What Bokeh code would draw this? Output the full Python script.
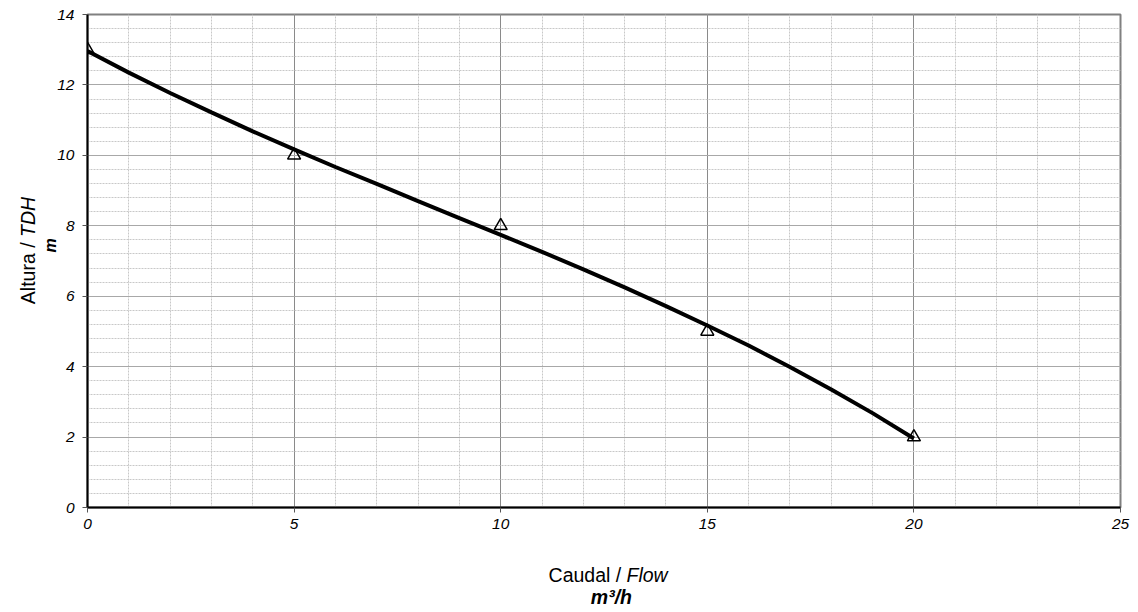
from bokeh.plotting import figure
from bokeh.models import Range1d, SingleIntervalTicker, Label, ColumnDataSource
from bokeh.embed import file_html
from bokeh.resources import INLINE
import math

# Measured pump points (Caudal / Flow m3/h, Altura / TDH m)
flow_pts = [0, 5, 10, 15, 20]
head_pts = [13, 10, 8, 5, 2]

# Trend curve
curve_flow = [0, 1, 2, 3, 4, 5, 6, 7, 8, 9, 10, 11, 12, 13, 14, 15, 16, 17, 18, 19, 20]
curve_head = [12.96, 12.35, 11.77, 11.22, 10.68, 10.17, 9.67, 9.19, 8.70, 8.22, 7.74,
              7.26, 6.76, 6.25, 5.72, 5.17, 4.60, 3.99, 3.35, 2.68, 1.96]

FONT = "Liberation Sans"

p = figure(width=1130, height=610, output_backend="svg", toolbar_location=None,
           x_range=Range1d(0, 25), y_range=Range1d(0, 14),
           min_border_left=87, min_border_right=10, min_border_top=14, min_border_bottom=103)
p.background_fill_color = "white"
p.border_fill_color = "white"
p.outline_line_color = "#808080"
p.outline_line_width = 2

p.xaxis.ticker = SingleIntervalTicker(interval=5, num_minor_ticks=5)
p.yaxis.ticker = SingleIntervalTicker(interval=2, num_minor_ticks=5)

for ax in (p.xaxis, p.yaxis):
    ax.axis_line_color = "black"
    ax.axis_line_width = 2
    ax.major_tick_line_color = "#555555"
    ax.major_tick_out = 5
    ax.major_tick_in = 0
    ax.minor_tick_out = 0
    ax.minor_tick_in = 0
    ax.major_label_text_font = FONT
    ax.major_label_text_font_style = "italic"
    ax.major_label_text_font_size = "15.5px"
    ax.major_label_text_color = "black"
p.xaxis.major_label_standoff = 6
p.yaxis.major_label_standoff = 8

p.xgrid.grid_line_color = "#8a8a8a"
p.ygrid.grid_line_color = "#a8a8a8"
p.xgrid.grid_line_width = 1
p.ygrid.grid_line_width = 1
for g in (p.xgrid, p.ygrid):
    g.minor_grid_line_color = "#c8c8c8"
    g.minor_grid_line_width = 1
    g.minor_grid_line_dash = "2 1"

pts = ColumnDataSource(dict(x=flow_pts, y=head_pts))
crv = ColumnDataSource(dict(x=curve_flow, y=curve_head))

p.scatter("x", "y", source=pts, marker="triangle", size=13, line_color="black",
          line_width=1.5, fill_alpha=0)
p.line("x", "y", source=crv, line_color="black", line_width=4)

TS = "19.5px"
common = dict(text_font=FONT, text_color="black", text_baseline="alphabetic")
below_labels = [
    Label(x=12.916, y=-1.903, text="Caudal /", text_align="right", text_font_size=TS, **common),
    Label(x=13.044, y=-1.903, text="Flow", text_align="left", text_font_size=TS,
          text_font_style="italic", **common),
    Label(x=12.68, y=-2.528, text="m³/h", text_align="center", text_font_size=TS,
          text_font_style="bold italic", **common),
]
left_labels = [
    Label(x=-1.452, y=5.774, text="Altura /", text_align="left", angle=math.pi / 2,
          text_font_size=TS, **common),
    Label(x=-1.452, y=7.682, text="TDH", text_align="left", angle=math.pi / 2,
          text_font_size=TS, text_font_style="italic", **common),
]
top_labels = [
    Label(x=-0.895, y=7.441, text="m", text_align="center", angle=math.pi / 2,
          text_font_size="16px", text_font_style="bold italic", **common),
]
for lb in below_labels:
    p.add_layout(lb, "below")
for lb in left_labels:
    p.add_layout(lb, "left")
for lb in top_labels:
    p.add_layout(lb, "above")

open("out.html", "w").write(file_html(p, INLINE))
